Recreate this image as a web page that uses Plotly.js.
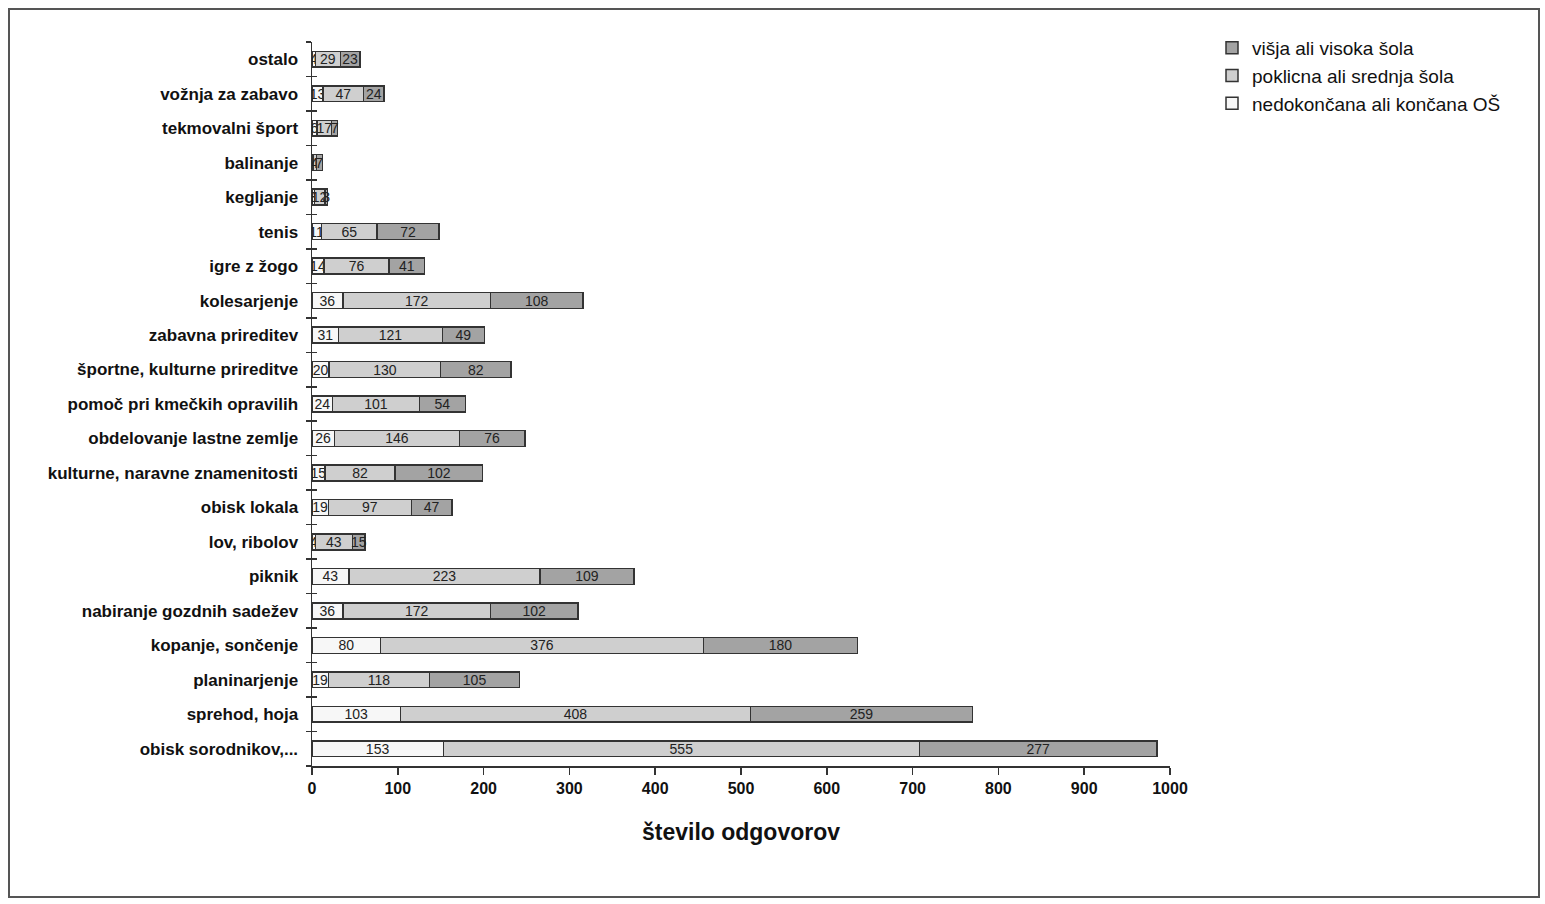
<!DOCTYPE html>
<html>
<head>
<meta charset="utf-8">
<script src="https://cdn.plot.ly/plotly-3.0.1.min.js"></script>
<style>
html,body{margin:0;padding:0;background:#fff;}
#wrap{position:absolute;left:0;top:0;width:1545px;height:904px;}
#frame{position:absolute;left:8px;top:8px;width:1532px;height:890px;border:2px solid #555;box-sizing:border-box;pointer-events:none;}
#chart{position:absolute;left:0;top:0;width:1545px;height:904px;}
</style>
</head>
<body>
<div id="wrap"><div id="chart"></div><div id="frame"></div></div>
<script>
const categories = [
  "obisk sorodnikov,...", "sprehod, hoja", "planinarjenje", "kopanje, sončenje",
  "nabiranje gozdnih sadežev", "piknik", "lov, ribolov", "obisk lokala",
  "kulturne, naravne znamenitosti", "obdelovanje lastne zemlje", "pomoč pri kmečkih opravilih",
  "športne, kulturne prireditve", "zabavna prireditev", "kolesarjenje", "igre z žogo",
  "tenis", "kegljanje", "balinanje", "tekmovalni šport", "vožnja za zabavo", "ostalo"
];
const osnovna = [153, 103, 19, 80, 36, 43, 4, 19, 15, 26, 24, 20, 31, 36, 14, 11, 3, 1, 6, 13, 4];
const srednja = [555, 408, 118, 376, 172, 223, 43, 97, 82, 146, 101, 130, 121, 172, 76, 65, 12, 4, 17, 47, 29];
const visoka  = [277, 259, 105, 180, 102, 109, 15, 47, 102, 76, 54, 82, 49, 108, 41, 72, 3, 7, 7, 24, 23];
const seriesNames = ["nedokončana ali končana OŠ", "poklicna ali srednja šola", "višja ali visoka šola"];
const xTicks = [0, 100, 200, 300, 400, 500, 600, 700, 800, 900, 1000];

const colors = ["#f7f7f7", "#cfcfcf", "#a3a3a3"];
const seriesVals = [osnovna, srednja, visoka];
const labelFont = {family: "Liberation Sans, Arial, sans-serif", size: 14, color: "#222"};

const traces = seriesVals.map((vals, i) => ({
  type: "bar",
  orientation: "h",
  name: seriesNames[i],
  y: categories,
  x: vals,
  text: vals.map(String),
  textposition: "inside",
  insidetextanchor: "middle",
  textangle: 0,
  constraintext: "none",
  textfont: labelFont,
  insidetextfont: labelFont,
  outsidetextfont: labelFont,
  marker: {color: colors[i], line: {color: "#333", width: 1.5}},
  hoverinfo: "skip"
}));

traces.push({
  type: "bar", orientation: "h", y: categories, x: categories.map(() => 0),
  xaxis: "x", yaxis: "y2", showlegend: false, hoverinfo: "skip",
  marker: {color: "rgba(0,0,0,0)"}
});

const layout = {
  width: 1545, height: 904,
  paper_bgcolor: "#fff", plot_bgcolor: "#fff",
  margin: {l: 312, r: 375, t: 42, b: 138},
  barmode: "stack",
  bargap: 0.54,
  uniformtext: {mode: "show", minsize: 13},
  font: {family: "Liberation Sans, Arial, sans-serif", color: "#111"},
  xaxis: {
    range: [0, 1000],
    tickvals: xTicks,
    ticktext: xTicks.map(String),
    showgrid: false, zeroline: false,
    showline: true, linecolor: "#333", linewidth: 1.5,
    ticks: "outside", ticklen: 7, tickcolor: "#333", tickwidth: 1.5,
    tickfont: {size: 16, color: "#111", weight: "bold"},
    title: {text: "<b>število odgovorov</b>", font: {size: 23, color: "#111"}, standoff: 28}
  },
  yaxis: {
    type: "category",
    categoryorder: "array", categoryarray: categories,
    range: [-0.5, categories.length - 0.5],
    showgrid: false, zeroline: false,
    showline: true, linecolor: "#333", linewidth: 1.5,
    ticks: "outside", ticklen: 5, tickcolor: "#333", tickwidth: 1.5,
    tickson: "boundaries",
    ticklabelstandoff: 9,
    tickfont: {size: 17, color: "#111", weight: "bold"}
  },
  yaxis2: {
    type: "category", overlaying: "y", matches: "y",
    categoryorder: "array", categoryarray: categories,
    showgrid: false, zeroline: false, showline: false,
    ticks: "inside", ticklen: 5, tickcolor: "#333", tickwidth: 1.5,
    tickson: "boundaries", showticklabels: false
  },
  legend: {
    x: 0, xref: "paper", xanchor: "left",
    y: 1.018, yanchor: "top",
    traceorder: "reversed",
    font: {size: 19, color: "#111"},
    itemwidth: 30, tracegroupgap: 0,
    bgcolor: "rgba(0,0,0,0)"
  },
  showlegend: true
};
layout.legend.x = (1212 - 312) / (1545 - 312 - 375);

Plotly.newPlot("chart", traces, layout, {displayModeBar: false, staticPlot: true});
</script>
</body>
</html>
